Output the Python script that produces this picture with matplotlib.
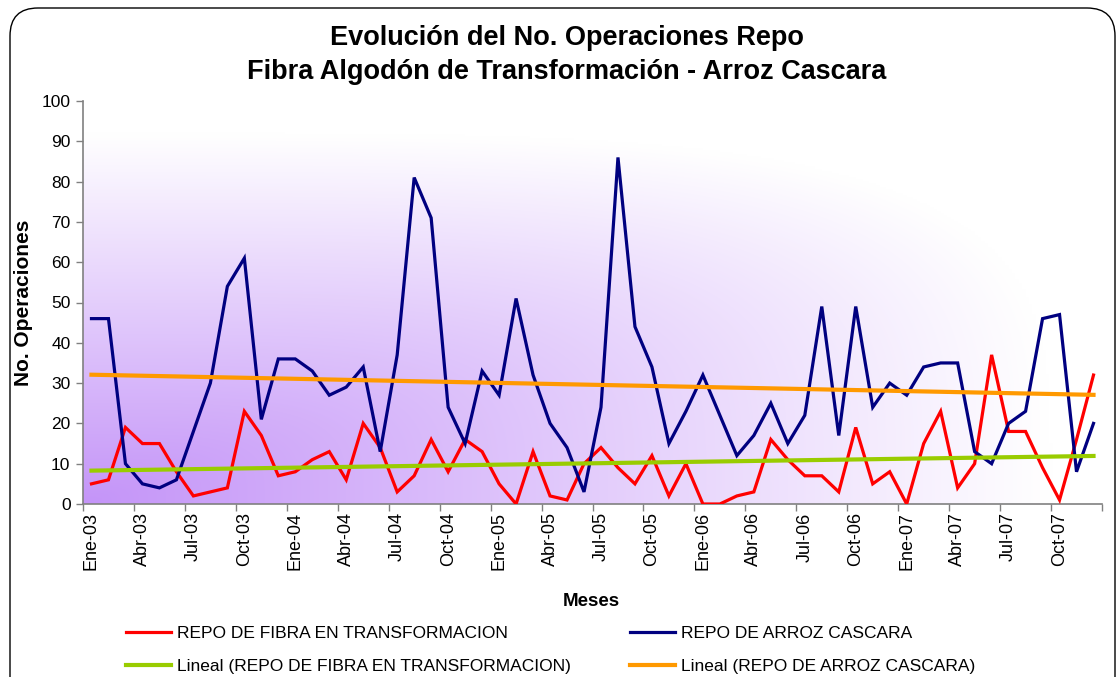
import matplotlib
matplotlib.use("Agg")
import matplotlib.pyplot as plt
from matplotlib.patches import FancyBboxPatch
from matplotlib.lines import Line2D
import numpy as np

plt.rcParams['font.family'] = ['Liberation Sans', 'DejaVu Sans']

# monthly data Ene-03 .. Dic-07
meses_abr = ['Ene', 'Feb', 'Mar', 'Abr', 'May', 'Jun', 'Jul', 'Ago', 'Sep', 'Oct', 'Nov', 'Dic']
anios = ['03', '04', '05', '06', '07']
meses = [m + '-' + a for a in anios for m in meses_abr]

fibra = [5, 6, 19, 15, 15, 8, 2, 3, 4, 23, 17, 7,
         8, 11, 13, 6, 20, 14, 3, 7, 16, 8, 16, 13,
         5, 0, 13, 2, 1, 10, 14, 9, 5, 12, 2, 10,
         0, 0, 2, 3, 16, 11, 7, 7, 3, 19, 5, 8,
         0, 15, 23, 4, 10, 37, 18, 18, 9, 1, 16, 32]

arroz = [46, 46, 10, 5, 4, 6, 18, 30, 54, 61, 21, 36,
         36, 33, 27, 29, 34, 13, 37, 81, 71, 24, 15, 33,
         27, 51, 32, 20, 14, 3, 24, 86, 44, 34, 15, 23,
         32, 22, 12, 17, 25, 15, 22, 49, 17, 49, 24, 30,
         27, 34, 35, 35, 13, 10, 20, 23, 46, 47, 8, 20]

lbl_fibra = 'REPO DE FIBRA EN TRANSFORMACION'
lbl_arroz = 'REPO DE ARROZ CASCARA'

x = np.arange(len(meses))

fig = plt.figure(figsize=(11.2, 6.77), dpi=100)
fig.patch.set_facecolor('white')

# chart area border with rounded corners (bottom runs off the picture)
border = FancyBboxPatch((0.10, -0.3), 11.05, 6.99,
                        boxstyle='round,pad=0,rounding_size=0.28',
                        transform=fig.dpi_scale_trans, fill=False,
                        edgecolor='black', linewidth=1.0)
fig.patches.append(border)

ax = fig.add_axes([83 / 1120, 1 - 504 / 677, (1102 - 83) / 1120, (504 - 101) / 677])

# plot area gradient: purple in the lower left corner fading to white
gx, gy = np.meshgrid(np.linspace(0, 1, 300), np.linspace(0, 1, 200))
d = ((gx / 0.95) ** 4 + (gy / 0.92) ** 4) ** (1 / 4)
t = np.clip(d, 0, 1)
c0 = np.array([196, 148, 248]) / 255
c1 = np.array([255, 255, 255]) / 255
img = c0[None, None, :] * (1 - t[..., None]) + c1[None, None, :] * t[..., None]
ax.imshow(img, extent=[-0.5, len(meses) - 0.5, 0, 100], origin='lower',
          aspect='auto', zorder=0, interpolation='bilinear')

ax.plot(x, fibra, color='#ff0000', lw=2.3, zorder=3, solid_joinstyle='miter')
ax.plot(x, arroz, color='#000080', lw=2.3, zorder=3, solid_joinstyle='miter')

# linear trend lines (least squares, like the Excel "Lineal" trendline)
pf = np.polyfit(x, fibra, 1)
pa = np.polyfit(x, arroz, 1)
ax.plot(x, np.polyval(pf, x), color='#99cc00', lw=3.0, zorder=4)
ax.plot(x, np.polyval(pa, x), color='#ff9900', lw=3.0, zorder=4)

ax.set_xlim(-0.5, len(meses) - 0.5)
ax.set_ylim(0, 100)
ax.set_yticks(np.arange(0, 101, 10))
ax.tick_params(axis='y', labelsize=12.5, length=5, width=1, color='#808080', direction='out', pad=4)

ax.set_xticks(np.arange(-0.5, len(meses), 3))
ax.set_xticklabels([])
ax.tick_params(axis='x', which='major', length=5, width=1, color='#808080', direction='out')
ax.set_xticks(x[::3], minor=True)
ax.set_xticklabels(meses[::3], minor=True, rotation=90, fontsize=13)
ax.tick_params(axis='x', which='minor', length=0, pad=6)

for s in ['top', 'right']:
    ax.spines[s].set_visible(False)
for s in ['left', 'bottom']:
    ax.spines[s].set_color('#808080')
    ax.spines[s].set_linewidth(1.2)

ax.set_ylabel('No. Operaciones', fontsize=15, fontweight='bold', labelpad=6)
fig.text(591 / 1120, 1 - 601 / 677, 'Meses', ha='center', va='center',
         fontsize=13.5, fontweight='bold')

fig.text(567 / 1120, 1 - 38 / 677, 'Evolución del No. Operaciones Repo',
         ha='center', va='center', fontsize=19.5, fontweight='bold')
fig.text(567 / 1120, 1 - 72 / 677, 'Fibra Algodón de Transformación - Arroz Cascara',
         ha='center', va='center', fontsize=19.5, fontweight='bold')

h_f = Line2D([], [], color='#ff0000', lw=2.3)
h_fl = Line2D([], [], color='#99cc00', lw=3.0)
h_a = Line2D([], [], color='#000080', lw=2.3)
h_al = Line2D([], [], color='#ff9900', lw=3.0)

leg_kw = dict(loc='upper left', frameon=False, fontsize=12.5, handlelength=2.6,
              handletextpad=0.35, labelspacing=1.0, borderpad=0, borderaxespad=0)
fig.legend([h_f, h_fl], [lbl_fibra, 'Lineal (' + lbl_fibra + ')'],
           bbox_to_anchor=(126 / 1120, 1 - 626 / 677), **leg_kw)
fig.legend([h_a, h_al], [lbl_arroz, 'Lineal (' + lbl_arroz + ')'],
           bbox_to_anchor=(630 / 1120, 1 - 626 / 677), **leg_kw)

fig.savefig('out.png', dpi=100)
